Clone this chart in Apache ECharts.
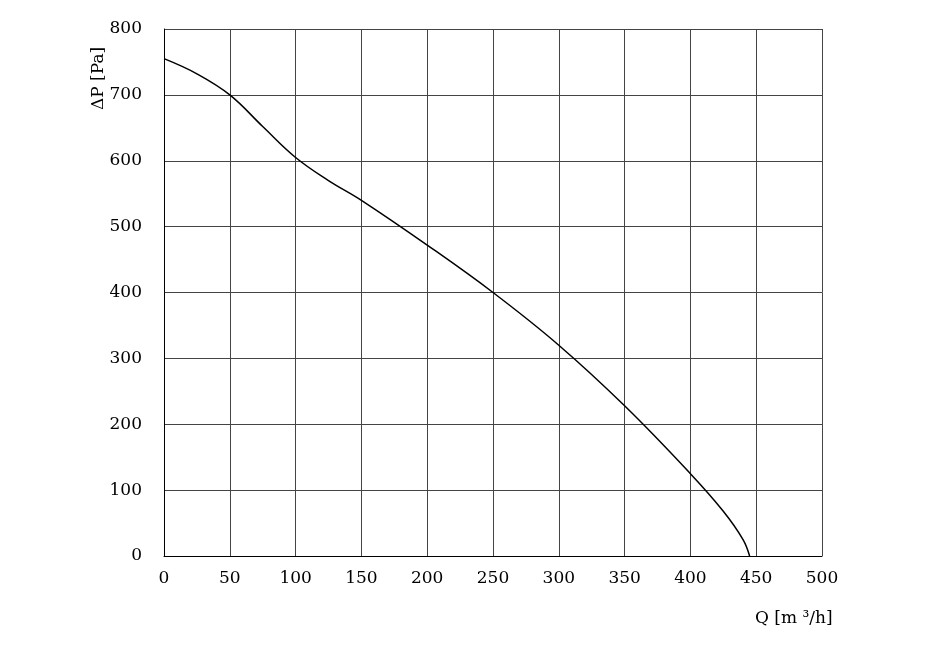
<!DOCTYPE html>
<html><head><meta charset="utf-8">
<script src="https://cdn.jsdelivr.net/npm/echarts@6/dist/echarts.min.js"></script>
<style>html,body{margin:0;background:#fff}#c{width:938px;height:665px}</style>
</head><body><div id="c"></div>
<script>
const flowQ = [0, 25, 50, 75, 100, 125, 150, 200, 250, 300, 350, 400, 425, 440, 445];
const pressure = [755, 732, 700, 652, 605, 570, 540, 472, 400, 320, 228, 125, 68, 25, 0];
const xTicks = [0, 50, 100, 150, 200, 250, 300, 350, 400, 450, 500];
const yTicks = [0, 100, 200, 300, 400, 500, 600, 700, 800];
const font = '"DejaVu Serif", "Liberation Serif", serif';
const chart = echarts.init(document.getElementById('c'));
chart.setOption({
  animation: false,
  grid: {left: 164, right: 116, top: 29, bottom: 109},
  xAxis: {type: 'value', min: 0, max: 500, interval: 50,
    axisLine: {lineStyle: {color: '#000'}}, axisTick: {show: false},
    axisLabel: {color: '#000', fontSize: 17, fontFamily: font, margin: 14},
    splitLine: {show: true, lineStyle: {color: '#444', width: 1}}},
  yAxis: {type: 'value', min: 0, max: 800, interval: 100,
    axisLine: {show: true, lineStyle: {color: '#000'}}, axisTick: {show: false},
    axisLabel: {color: '#000', fontSize: 17, fontFamily: font, margin: 22},
    splitLine: {show: true, lineStyle: {color: '#444', width: 1}}},
  graphic: [
    {type: 'text', left: 76, top: 22, rotation: Math.PI / 2, style: {text: 'ΔP [Pa]', font: '17px ' + font, fill: '#000'}, x: 90, y: 110, left: null, top: null},
    {type: 'text', x: 755, y: 610, style: {text: 'Q [m ³/h]', font: '17px ' + font, fill: '#000'}}
  ],
  series: [{type: 'line', smooth: 0.4, symbol: 'none',
    data: flowQ.map((q, i) => [q, pressure[i]]),
    lineStyle: {color: '#000', width: 1.5}}]
});
</script></body></html>
